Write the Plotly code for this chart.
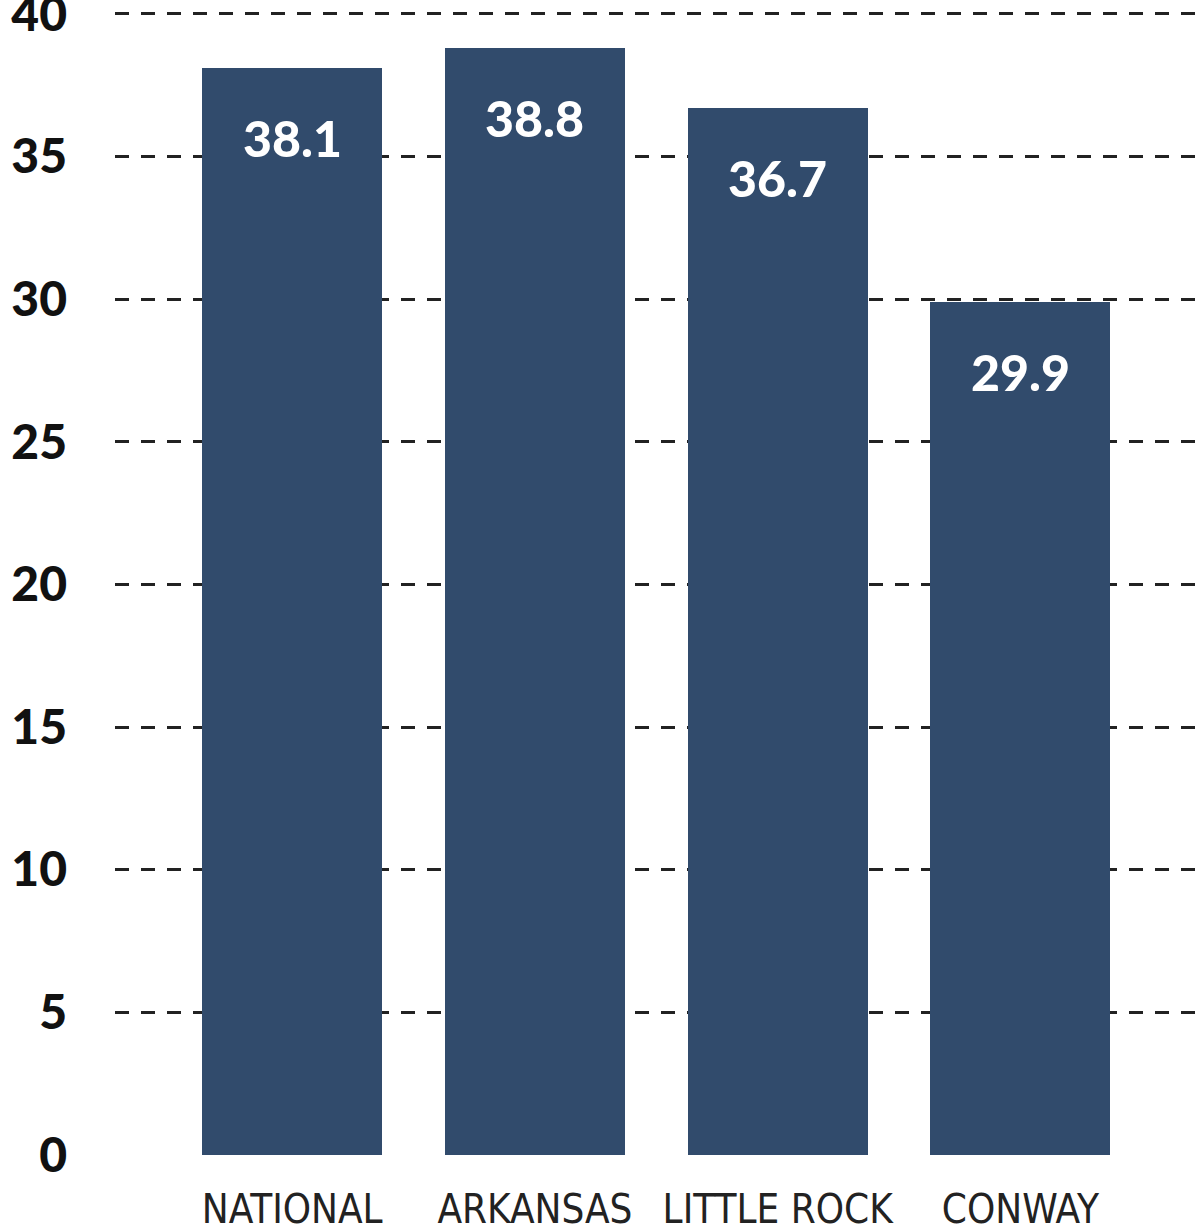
import plotly.graph_objects as go

categories = ["NATIONAL", "ARKANSAS", "LITTLE ROCK", "CONWAY"]
values = [38.1, 38.8, 36.7, 29.9]
y_ticks = [0, 5, 10, 15, 20, 25, 30, 35, 40]

bar_color = "#314b6c"

fig = go.Figure()

fig.add_trace(
    go.Bar(
        x=categories,
        y=values,
        width=0.742,
        marker={"color": bar_color, "line": {"width": 0}},
        hoverinfo="skip",
    )
)

# value labels sit a bit below each bar top
for cat, val in zip(categories, values):
    fig.add_annotation(
        x=cat,
        y=val,
        text=f"{val}",
        showarrow=False,
        yanchor="middle",
        yshift=-70,
        font={"family": "Lato", "size": 50, "color": "white", "weight": 900},
    )

fig.update_xaxes(
    range=[-0.73, 3.74],
    showgrid=False,
    zeroline=False,
    showline=False,
    ticks="",
    tickangle=0,
    automargin=False,
    tickfont={"family": "DejaVu Sans Condensed, Roboto", "size": 40, "color": "#222222"},
    ticklabelstandoff=27,
    ticklabeloverflow="allow",
)

fig.update_yaxes(
    range=[0, 40.2],
    tickvals=y_ticks,
    showgrid=True,
    gridcolor="#222222",
    gridwidth=3,
    griddash="14px,12px",
    zeroline=False,
    showline=False,
    ticks="",
    automargin=False,
    tickfont={"family": "Lato", "size": 48, "color": "#111111", "weight": 900},
    ticklabelstandoff=47,
    ticklabeloverflow="allow",
)

fig.update_layout(
    width=1200,
    height=1224,
    margin={"l": 115, "r": 0, "t": 8, "b": 69},
    plot_bgcolor="white",
    paper_bgcolor="white",
    showlegend=False,
    bargap=0,
)

# drop the default page margin so the chart sits flush at the top-left
fig.write_html(
    "out.html",
    config={"displayModeBar": False},
    post_script="document.body.style.margin='0';",
)
